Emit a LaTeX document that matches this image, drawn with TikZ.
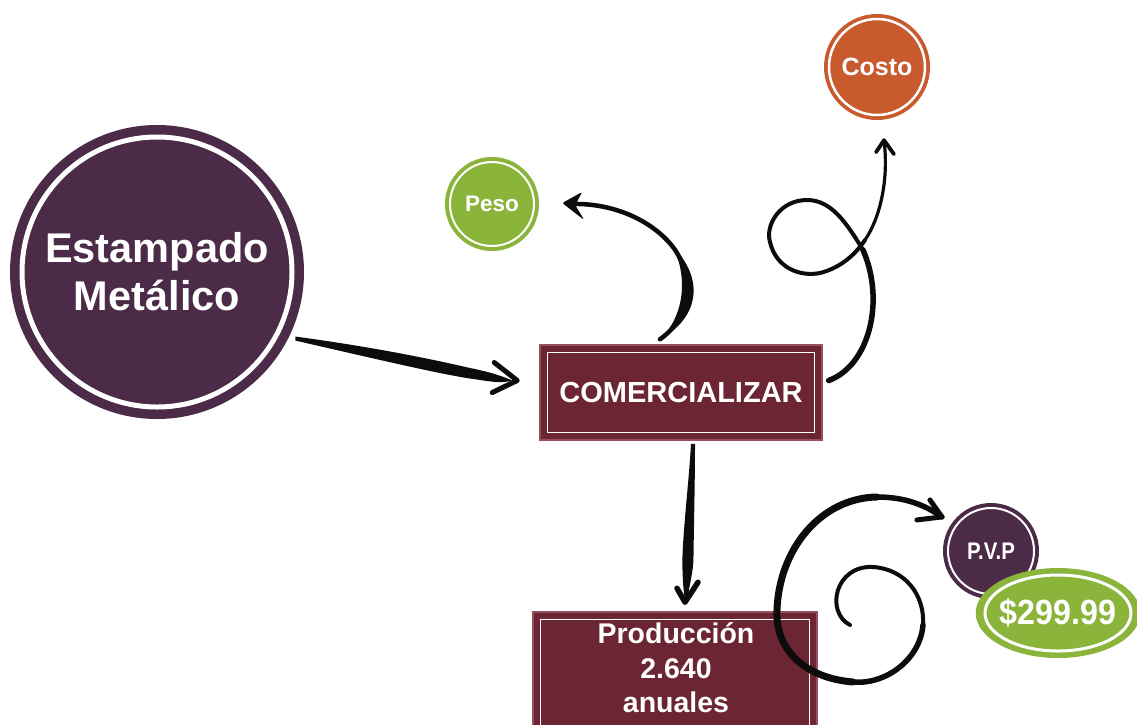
\documentclass[tikz,border=0pt]{standalone}
\usepackage{fontspec}
\setmainfont{Liberation Sans}
\usetikzlibrary{shapes.geometric,calc}
\definecolor{cpurple}{RGB}{75,43,71}
\definecolor{cmaroon}{RGB}{108,37,50}
\definecolor{cedge}{RGB}{150,80,95}
\definecolor{cgreen}{RGB}{139,180,58}
\definecolor{corange}{RGB}{201,90,46}
\definecolor{cink}{RGB}{12,12,12}
\begin{document}
\begin{tikzpicture}[x=1pt,y=-1pt,
  bigc/.style={circle,fill=cpurple,minimum size=294pt,inner sep=0pt,text=white,align=center,font=\fontsize{41.5}{48}\selectfont\bfseries},
  smallc/.style={circle,inner sep=0pt,text=white},
  boxn/.style={rectangle,fill=cmaroon,draw=cedge,line width=1.5pt,inner sep=0pt},
  ring/.style={draw=white,line width=#1},
  ink/.style={draw=cink,line cap=round,line join=round}
]
\useasboundingbox (0,0) rectangle (1137,724);
\clip (0,0) rectangle (1137,724);
\fill[white] (0,0) rectangle (1137,724);

% main nodes
\node[bigc] (est) at (157,272) {Estampado\\Metálico};
\draw[ring=5pt] (est.center) circle[radius=135];

\node[boxn,minimum width=282pt,minimum height=95pt,text=white,font=\fontsize{29}{32}\selectfont\bfseries] (com) at (681,392.5) {COMERCIALIZAR};
\draw[white,line width=1.3pt] ([shift={(8,8)}]com.north west) rectangle ([shift={(-8,-8)}]com.south east);

\node[boxn,minimum width=284pt,minimum height=150pt] (prod) at (675,687) {};
\draw[white,line width=1.3pt] ([shift={(8,8)}]prod.north west) rectangle ([shift={(-8,-8)}]prod.south east);
\node[text=white,align=center,font=\fontsize{28.5}{34.5}\selectfont\bfseries] (prodt) at (676,668) {Producción\\2.640\\anuales};

\node[smallc,fill=cgreen,minimum size=94pt,font=\fontsize{22.5}{26}\selectfont\bfseries] (peso) at (492,204) {Peso};
\draw[ring=2pt] (peso.center) circle[radius=42];

\node[smallc,fill=corange,minimum size=106pt,font=\fontsize{25}{30}\selectfont\bfseries] (costo) at (877,67) {Costo};
\draw[ring=2.5pt] (costo.center) circle[radius=48];

\node[smallc,fill=cpurple,minimum size=96pt,font=\fontsize{24}{28}\selectfont\bfseries] (pvp) at (991,551) {\scalebox{0.85}[1]{P.V.P}};
\draw[ring=2pt] (pvp.center) circle[radius=43];

\node[ellipse,fill=cgreen,minimum width=160pt,minimum height=90pt,inner sep=0pt,text=white,font=\fontsize{35}{40}\selectfont\bfseries] (price) at (1058,613) {\scalebox{0.92}[1]{\$299.99}};
\draw[ring=3pt] (price.center) ellipse[x radius=73,y radius=38];

% connector 1: Estampado -> COMERCIALIZAR
\coordinate (a1s) at ([xshift=6pt,yshift=-2pt]est.-26);
\coordinate (a1e) at ([xshift=-22pt,yshift=12pt]com.west);
\fill[cink] ($(a1s)+(0,-2)$) .. controls (380,348) and (440,361) .. (470,368)
  .. controls (490,372) and (502,376) .. ($(a1e)+(-5,0)$)
  .. controls (500,384) and (488,381) .. (470,378.5)
  .. controls (440,374) and (380,360) .. ($(a1s)+(0,2)$) -- cycle;
\draw[ink,line width=5pt] ($(a1e)+(-23,-18)$) -- (a1e) -- ($(a1e)+(-25,12)$);

% connector 2: COMERCIALIZAR -> Produccion
\coordinate (a2s) at ([xshift=12pt,yshift=-3pt]com.south);
\coordinate (a2e) at ([xshift=10pt,yshift=9pt]prod.north);
\fill[cink] ($(a2s)+(-2,0)$) .. controls (689,480) and (684,520) .. (682.5,555)
  .. controls (682,575) and (683.5,590) .. (684.5,597) -- (688,597)
  .. controls (689,585) and (694,570) .. (693.5,555)
  .. controls (694,520) and (695,480) .. ($(a2s)+(2,0)$) -- cycle;
\draw[ink,line width=5.5pt] ($(a2e)+(-8,-14)$) -- (a2e) -- ($(a2e)+(13,-20)$);

% connector 3: COMERCIALIZAR -> Peso
\coordinate (a3s) at ([xshift=-21pt,yshift=5pt]com.north);
\coordinate (a3e) at ([xshift=23pt,yshift=1pt]peso.east);
\draw[ink,line width=4.5pt] (a3s) .. controls (690,318) and (697,280) .. (673,247)
  .. controls (650,218) and (610,203) .. ($(a3e)+(10,1)$);
\fill[cink] (a3s) .. controls (699,318) and (705,279) .. (673,247)
  .. controls (689,279) and (683,318) .. (a3s) -- cycle;
\fill[cink,rounded corners=2pt] (a3e) -- ($(a3e)+(20,-11)$) -- ($(a3e)+(13,2)$) -- ($(a3e)+(22,17)$) -- cycle;

% connector 4: COMERCIALIZAR -> Costo (loop)
\coordinate (a4s) at ([xshift=6pt,yshift=12pt]com.east);
\coordinate (a4e) at ([xshift=7pt,yshift=-20pt]costo.south);
\draw[ink,line width=5.5pt] (a4s) .. controls (870,365) and (885,300) .. (863,250);
\draw[ink,line width=4pt] (863,250) .. controls (845,220) and (830,200) .. (807,200)
  .. controls (780,200) and (765,225) .. (770,242)
  .. controls (776,268) and (800,277) .. (820,273)
  .. controls (840,268) and (855,255) .. (865,240);
\draw[ink,line width=3.2pt] (865,240) .. controls (880,218) and (889,180) .. (a4e);
\draw[ink,line width=3.8pt] ($(a4e)+(-8,12)$) -- (a4e) -- ($(a4e)+(10,14)$);

% connector 5: spiral -> P.V.P
\coordinate (a5s) at (850,625);
\coordinate (a5e) at ([xshift=-15pt]pvp.135);
\draw[ink,line width=4pt] (a5s) .. controls (825,612) and (835,565) .. (873,567)
  .. controls (905,569) and (925,595) .. (923,625);
\draw[ink,line width=5.5pt] (923,625) .. controls (920,660) and (885,685) .. (853,682);
\draw[ink,line width=7pt] (853,682) .. controls (805,678) and (775,650) .. (777,610)
  .. controls (779,550) and (820,498) .. (877,497);
\draw[ink,line width=5.5pt] (877,497) .. controls (905,497) and (925,505) .. (a5e);
\draw[ink,line width=5pt] ($(a5e)+(-25,3)$) -- (a5e) -- ($(a5e)+(-12,-17)$);
\end{tikzpicture}
\end{document}
